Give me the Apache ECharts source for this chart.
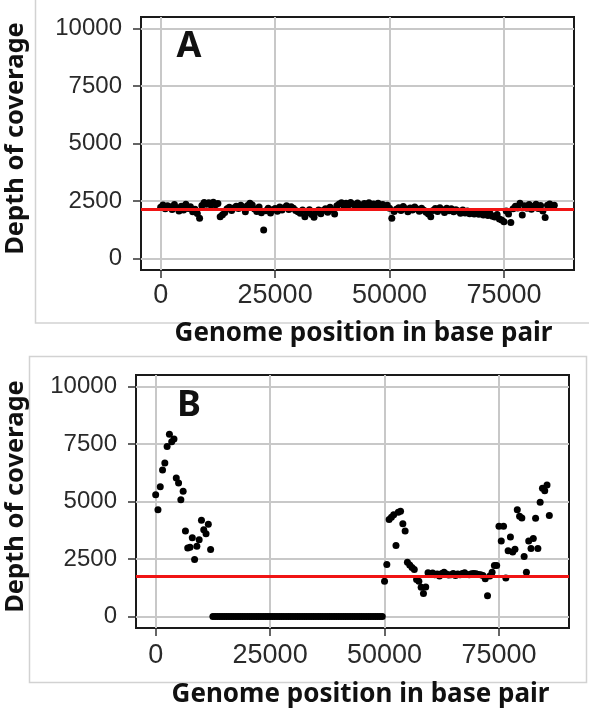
<!DOCTYPE html>
<html>
<head>
<meta charset="utf-8">
<script src="https://cdn.jsdelivr.net/npm/echarts@6/dist/echarts.min.js"></script>
<style>
  html, body { margin: 0; padding: 0; background: #fff; }
  #coverage-chart { width: 589px; height: 713px; }
</style>
</head>
<body>
<div id="coverage-chart"></div>
<script>
// window start positions (bp), shared by both panels
const positions = [
  0,500,1000,1500,2000,2500,3000,3500,4000,4500,
  5000,5500,6000,6500,7000,7500,8000,8500,9000,9500,
  10000,10500,11000,11500,12000,12500,13000,13500,14000,14500,
  15000,15500,16000,16500,17000,17500,18000,18500,19000,19500,
  20000,20500,21000,21500,22000,22500,23000,23500,24000,24500,
  25000,25500,26000,26500,27000,27500,28000,28500,29000,29500,
  30000,30500,31000,31500,32000,32500,33000,33500,34000,34500,
  35000,35500,36000,36500,37000,37500,38000,38500,39000,39500,
  40000,40500,41000,41500,42000,42500,43000,43500,44000,44500,
  45000,45500,46000,46500,47000,47500,48000,48500,49000,49500,
  50000,50500,51000,51500,52000,52500,53000,53500,54000,54500,
  55000,55500,56000,56500,57000,57500,58000,58500,59000,59500,
  60000,60500,61000,61500,62000,62500,63000,63500,64000,64500,
  65000,65500,66000,66500,67000,67500,68000,68500,69000,69500,
  70000,70500,71000,71500,72000,72500,73000,73500,74000,74500,
  75000,75500,76000,76500,77000,77500,78000,78500,79000,79500,
  80000,80500,81000,81500,82000,82500,83000,83500,84000,84500,
  85000,85500,86000
];

// panel A depth of coverage
const depthA = [
  2230,2330,2160,2290,2250,2130,2350,2200,2060,2270,
  2110,2360,2170,2250,2030,2140,1960,1745,2300,2440,
  2360,2420,2330,2450,2340,2390,1820,1900,2000,2160,
  2230,2090,2200,2270,2170,2320,2240,2030,2300,2400,
  2330,2150,2040,2240,1990,1240,2080,2190,1980,2120,
  2170,2050,2240,2110,2210,2290,2130,2250,2180,2090,
  2030,1970,2110,1820,1990,2120,1910,1790,2010,2110,
  1950,2090,2160,2010,2230,2120,1940,2290,2370,2420,
  2300,2400,2330,2440,2360,2290,2410,2340,2270,2390,
  2320,2420,2280,2370,2300,2400,2250,2350,2260,2320,
  2180,1745,2040,2140,2210,2090,2260,2160,2030,2200,
  2110,2240,2150,2050,2190,2100,2010,1940,1817,2090,
  2170,2040,2210,2120,2000,2180,2080,2160,2030,2120,
  2060,1970,2110,1980,2060,1950,2040,1940,2020,1920,
  2000,1890,1970,1870,1950,1840,1800,1910,1720,1673,
  1600,2060,1940,1560,2160,2270,2200,2400,1890,2290,
  2190,2350,2140,2270,2360,2170,2300,2070,1787,2310,
  2370,2270,2310
];

// panel B depth of coverage
const depthB = [
  5295,4644,5642,6367,6671,7394,7929,7596,7712,6019,
  5802,5078,5441,3719,2982,3010,3429,2474,3055,3342,
  4182,3776,3602,4010,2908,0,0,0,0,0,
  0,0,0,0,0,0,0,0,0,0,
  0,0,0,0,0,0,0,0,0,0,
  0,0,0,0,0,0,0,0,0,0,
  0,0,0,0,0,0,0,0,0,0,
  0,0,0,0,0,0,0,0,0,0,
  0,0,0,0,0,0,0,0,0,0,
  0,0,0,0,0,0,0,0,0,0,
  1528,2257,4215,4315,4429,3086,4529,4572,4029,3715,
  2357,2243,2128,2043,1614,1528,1271,1000,1286,1900,
  1857,1886,1814,1843,1757,1871,1929,1843,1800,1814,
  1871,1786,1843,1814,1871,1900,1829,1814,1857,1871,
  1857,1829,1814,1786,1643,900,1757,1929,2214,2214,
  3929,3286,3929,1671,2857,3457,2800,2929,4643,4357,
  4286,2614,1929,3286,2957,3386,4272,2957,4972,5572,
  5472,5715,4386
];

const meanA = 2140;
const meanB = 1740;

const xTicks = [0, 25000, 50000, 75000];
const yTicks = [0, 2500, 5000, 7500, 10000];

const chart = echarts.init(document.getElementById('coverage-chart'));

function makeX(idx, labelMargin) {
  return {
    type: 'value', gridIndex: idx, min: -4300, max: 90300, position: 'bottom',
    axisLine: { show: false, onZero: false },
    axisTick: { show: true, length: 8, customValues: xTicks, lineStyle: { color: '#333', width: 1.5 } },
    axisLabel: { customValues: xTicks, formatter: v => String(v), margin: labelMargin, fontSize: 27, color: '#2a2a2a', fontFamily: 'Liberation Sans' },
    splitLine: { show: true, lineStyle: { color: '#c8c8c8', width: 2 } }
  };
}
function makeY(idx) {
  return {
    type: 'value', gridIndex: idx, min: -500, max: 10500, position: 'left',
    axisLine: { show: false, onZero: false },
    axisTick: { show: true, length: 8, customValues: yTicks, lineStyle: { color: '#333', width: 1.5 } },
    axisLabel: { customValues: yTicks, formatter: v => String(v), margin: 19, fontSize: 24, color: '#2a2a2a', fontFamily: 'Liberation Sans' },
    splitLine: { show: true, lineStyle: { color: '#c8c8c8', width: 2 } }
  };
}
function makeSeries(idx, depth, mean) {
  return {
    type: 'scatter', xAxisIndex: idx, yAxisIndex: idx,
    symbolSize: 7, itemStyle: { color: '#000', opacity: 1 },
    data: positions.map((p, i) => [p, depth[i]]),
    markLine: {
      silent: true, symbol: 'none', label: { show: false },
      lineStyle: { color: '#f01414', width: 3, type: 'solid' },
      data: [{ yAxis: mean }]
    }
  };
}

const titleFont = 'Noto Sans';
const option = {
  animation: false,
  backgroundColor: '#fff',
  grid: [
    { left: 141, top: 17, width: 433, height: 253, show: true, borderColor: '#1a1a1a', borderWidth: 2, backgroundColor: 'transparent' },
    { left: 136, top: 375, width: 433, height: 253, show: true, borderColor: '#1a1a1a', borderWidth: 2, backgroundColor: 'transparent' }
  ],
  xAxis: [makeX(0, 12), makeX(1, 14)],
  yAxis: [makeY(0), makeY(1)],
  series: [makeSeries(0, depthA, meanA), makeSeries(1, depthB, meanB)],
  graphic: [
    { type: 'rect', silent: true, shape: { x: 35.5, y: -10, width: 600, height: 333 }, style: { fill: 'none', stroke: '#d2d2d2', lineWidth: 1.5 } },
    { type: 'rect', silent: true, shape: { x: 29.5, y: 356.5, width: 557, height: 326 }, style: { fill: 'none', stroke: '#d2d2d2', lineWidth: 1.5 } },
    { type: 'text', x: 16, y: 138.5, rotation: Math.PI / 2, style: { text: 'Depth of coverage', align: 'center', verticalAlign: 'middle', fontSize: 25.5, fontWeight: 'bold', fontFamily: titleFont, fill: '#111' } },
    { type: 'text', x: 16, y: 496.5, rotation: Math.PI / 2, style: { text: 'Depth of coverage', align: 'center', verticalAlign: 'middle', fontSize: 25.5, fontWeight: 'bold', fontFamily: titleFont, fill: '#111' } },
    { type: 'text', x: 363.5, y: 334, style: { text: 'Genome position in base pair', align: 'center', verticalAlign: 'middle', fontSize: 26, fontWeight: 'bold', fontFamily: titleFont, fill: '#111' } },
    { type: 'text', x: 360.5, y: 695, style: { text: 'Genome position in base pair', align: 'center', verticalAlign: 'middle', fontSize: 26, fontWeight: 'bold', fontFamily: titleFont, fill: '#111' } },
    { type: 'text', x: 189, y: 47, style: { text: 'A', align: 'center', verticalAlign: 'middle', fontSize: 36, fontWeight: 'bold', fontFamily: titleFont, fill: '#111' } },
    { type: 'text', x: 189, y: 405.5, style: { text: 'B', align: 'center', verticalAlign: 'middle', fontSize: 36, fontWeight: 'bold', fontFamily: titleFont, fill: '#111' } }
  ]
};
chart.setOption(option);
</script>
</body>
</html>
